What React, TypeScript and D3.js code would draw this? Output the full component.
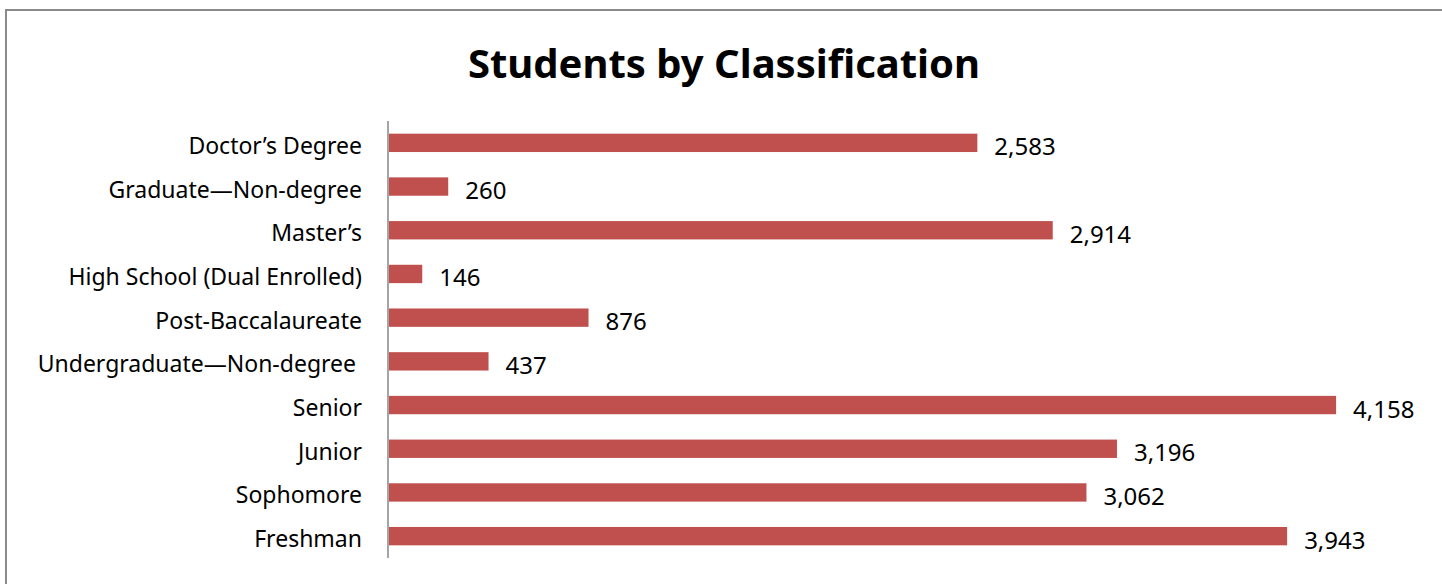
import React, { useEffect, useRef } from 'react';
import * as d3 from 'd3';

const categories = [
  'Doctor\u2019s Degree',
  'Graduate\u2014Non-degree',
  'Master\u2019s',
  'High School (Dual Enrolled)',
  'Post-Baccalaureate',
  'Undergraduate\u2014Non-degree ',
  'Senior',
  'Junior',
  'Sophomore',
  'Freshman',
];
const students = [2583, 260, 2914, 146, 876, 437, 4158, 3196, 3062, 3943];

const App = () => {
  const ref = useRef<SVGSVGElement>(null);

  useEffect(() => {
    const svg = d3.select(ref.current);
    svg.selectAll('*').remove();

    const width = 1442;
    const height = 584;
    const font = '"Noto Sans", "Open Sans", sans-serif';

    // frame of the chart area (right/bottom edges run off the picture)
    svg.append('rect')
      .attr('x', 6)
      .attr('y', 10)
      .attr('width', width + 20)
      .attr('height', height + 20)
      .attr('fill', '#fff')
      .attr('stroke', '#8a8a8a')
      .attr('stroke-width', 2);

    svg.append('text')
      .attr('x', 724)
      .attr('y', 78)
      .attr('text-anchor', 'middle')
      .style('font', `bold 40px ${font}`)
      .attr('fill', '#000')
      .text('Students by Classification');

    const x = d3.scaleLinear().domain([0, 4500]).range([389, 1414]);
    const y = d3.scaleBand().domain(categories).range([121, 558]).paddingInner(0.58).paddingOuter(0.29);

    svg.append('g')
      .selectAll('rect')
      .data(students)
      .join('rect')
      .attr('x', x(0))
      .attr('y', (d, i) => y(categories[i])!)
      .attr('width', d => x(d) - x(0))
      .attr('height', y.bandwidth())
      .attr('fill', '#c0504d');

    // category axis
    svg.append('line')
      .attr('x1', 388)
      .attr('x2', 388)
      .attr('y1', 121)
      .attr('y2', 558)
      .attr('stroke', '#868686')
      .attr('stroke-width', 1.5);

    svg.append('g')
      .selectAll('text')
      .data(categories)
      .join('text')
      .attr('x', 362)
      .attr('y', d => y(d)! + y.bandwidth() / 2 + 2)
      .attr('text-anchor', 'end')
      .attr('dominant-baseline', 'central')
      .style('white-space', 'pre')
      .style('font', `23px ${font}`)
      .attr('fill', '#000')
      .text(d => d);

    const fmt = d3.format(',');
    svg.append('g')
      .selectAll('text')
      .data(students)
      .join('text')
      .attr('x', d => x(d) + 17)
      .attr('y', (d, i) => y(categories[i])! + y.bandwidth() / 2 + 3)
      .attr('dominant-baseline', 'central')
      .style('font', `24px ${font}`)
      .attr('fill', '#000')
      .text(d => fmt(d));
  }, []);

  return (
    <svg
      ref={ref}
      width={1442}
      height={584}
      style={{ position: 'fixed', left: 0, top: 0, display: 'block' }}
    />
  );
};

export default App;
